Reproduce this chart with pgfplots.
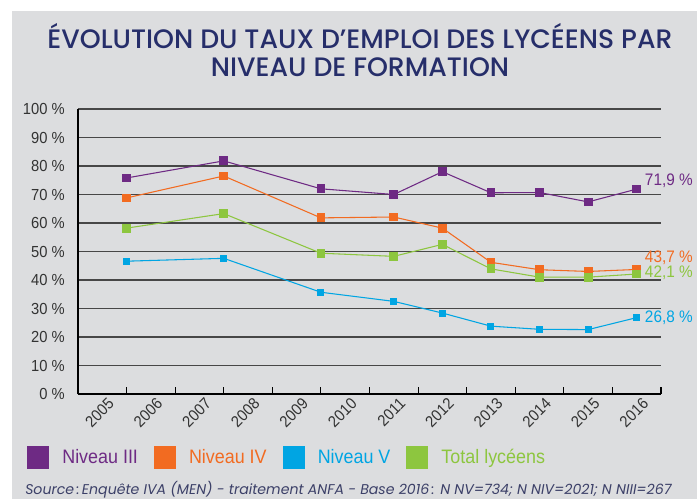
\documentclass[border=0pt]{standalone}
\usepackage{pgfplots}
\pgfplotsset{compat=1.18}
\usepackage{fontspec}
\setmainfont{Liberation Sans}[FakeStretch=0.92]
\newfontfamily\titlefont{Poppins Medium}
\newfontfamily\srcfont{Poppins}
\definecolor{bg}{HTML}{DCDDDF}
\definecolor{navy}{HTML}{262E6A}
\definecolor{cpurple}{HTML}{6E2A84}
\definecolor{corange}{HTML}{F26B21}
\definecolor{cblue}{HTML}{00A5E3}
\definecolor{cgreen}{HTML}{8DC63F}
\definecolor{ctick}{HTML}{333333}
\definecolor{csrc}{HTML}{3C4068}
\begin{document}
\begin{tikzpicture}
\fill[white] (0,0) rectangle ({697*0.75pt},{-499*0.75pt});
\fill[bg] ({12*0.75pt},{-11*0.75pt}) rectangle ({697*0.75pt},{-499*0.75pt});
\node[anchor=base, text=navy, font=\titlefont\fontsize{20}{23}\selectfont, inner sep=0pt] at ({360*0.75pt},{-49*0.75pt}) {ÉVOLUTION DU TAUX D’EMPLOI DES LYCÉENS PAR};
\node[anchor=base, text=navy, font=\titlefont\fontsize{20}{23}\selectfont, inner sep=0pt] at ({360*0.75pt},{-77*0.75pt}) {NIVEAU DE FORMATION};
\node[anchor=base west, text=csrc, font=\srcfont\itshape\fontsize{10.6}{12}\selectfont, inner sep=0pt] at ({25*0.75pt},{-494*0.75pt}) {Source\,:\,Enquête IVA (MEN) - traitement ANFA - Base 2016\,: N NV=734; N NIV=2021; N NIII=267};
\begin{axis}[
  at={({78*0.75pt},{-394*0.75pt})}, anchor=south west,
  scale only axis, width={583*0.75pt}, height={285*0.75pt},
  xmin=-0.5, xmax=11.5, ymin=0, ymax=100,
  clip=false,
  axis x line*=bottom, axis y line*=left,
  axis line style={-, black, line width=0.8pt},
  xtick={0,1,2,3,4,5,6,7,8,9,10,11},
  xticklabels={2005,2006,2007,2008,2009,2010,2011,2012,2013,2014,2015,2016},
  minor xtick={-0.5,0.5,1.5,2.5,3.5,4.5,5.5,6.5,7.5,8.5,9.5,10.5,11.5},
  major tick length=0pt, minor tick length={7*0.75pt},
  tick align=inside,
  minor tick style={black, line width=0.8pt},
  ytick={0,10,20,30,40,50,60,70,80,90,100},
  yticklabels={0 \%,10 \%,20 \%,30 \%,40 \%,50 \%,60 \%,70 \%,80 \%,90 \%,100 \%},
  ymajorgrids,
  major grid style={black!72, line width=0.85pt},
  ticklabel style={text=ctick, font=\fontsize{12}{14}\selectfont},
  yticklabel style={anchor=east, inner sep=0pt, xshift=-9.75pt},
  xticklabel style={rotate=45, anchor=east, inner sep=0pt, xshift=1pt, yshift=-8.5pt},
  legend columns=4,
  legend style={at={(-0.08748,-0.2228)}, anchor=west, draw=none, fill=none, inner sep=0pt,
    font=\fontsize{14.6}{16}\selectfont,
    nodes={inner sep=0pt},
    /tikz/every odd column/.append style={column sep={13*0.75pt}},
    /tikz/every even column/.append style={column sep={16*0.75pt}}},
  every axis plot/.append style={line width=0.8pt, mark=square*},
]
\addplot[cpurple, mark options={fill=cpurple, draw=cpurple}, mark size=2.9pt,
  legend image code/.code={\fill[cpurple] (0pt,-7.875pt) rectangle (15.75pt,7.875pt);}]
  coordinates {(0.5,75.8) (2.5,81.8) (4.5,72.0) (6,70.0) (7,78.0) (8,70.6) (9,70.7) (10,67.4) (11,71.9)};
\addlegendentry{\textcolor{cpurple}{Niveau III}}
\addplot[corange, mark options={fill=corange, draw=corange}, mark size=2.9pt,
  legend image code/.code={\fill[corange] (0pt,-7.875pt) rectangle (15.75pt,7.875pt);}]
  coordinates {(0.5,68.8) (2.5,76.5) (4.5,61.8) (6,62.1) (7,58.2) (8,46.2) (9,43.6) (10,43.0) (11,43.7)};
\addlegendentry{\textcolor{corange}{Niveau IV}}
\addplot[cblue, mark options={fill=cblue, draw=cblue}, mark size=2.2pt,
  legend image code/.code={\fill[cblue] (0pt,-7.875pt) rectangle (15.75pt,7.875pt);}]
  coordinates {(0.5,46.6) (2.5,47.6) (4.5,35.7) (6,32.5) (7,28.4) (8,23.8) (9,22.7) (10,22.6) (11,26.8)};
\addlegendentry{\textcolor{cblue}{Niveau V}}
\addplot[cgreen, mark options={fill=cgreen, draw=cgreen}, mark size=2.9pt,
  legend image code/.code={\fill[cgreen] (0pt,-7.875pt) rectangle (15.75pt,7.875pt);}]
  coordinates {(0.5,58.2) (2.5,63.3) (4.5,49.4) (6,48.3) (7,52.5) (8,43.9) (9,41.0) (10,41.0) (11,42.1)};
\addlegendentry{\textcolor{cgreen}{Total lycéens}}
\node[anchor=west, inner sep=0pt, text=cpurple, font=\fontsize{12.5}{14}\selectfont, xshift=6pt] at (axis cs:11,74.9) {71,9 \%};
\node[anchor=west, inner sep=0pt, text=corange, font=\fontsize{12.5}{14}\selectfont, xshift=6pt] at (axis cs:11,47.7) {43,7 \%};
\node[anchor=west, inner sep=0pt, text=cgreen, font=\fontsize{12.5}{14}\selectfont, xshift=6pt] at (axis cs:11,42.5) {42,1 \%};
\node[anchor=west, inner sep=0pt, text=cblue, font=\fontsize{12.5}{14}\selectfont, xshift=6pt] at (axis cs:11,26.7) {26,8 \%};
\end{axis}
\end{tikzpicture}
\end{document}
